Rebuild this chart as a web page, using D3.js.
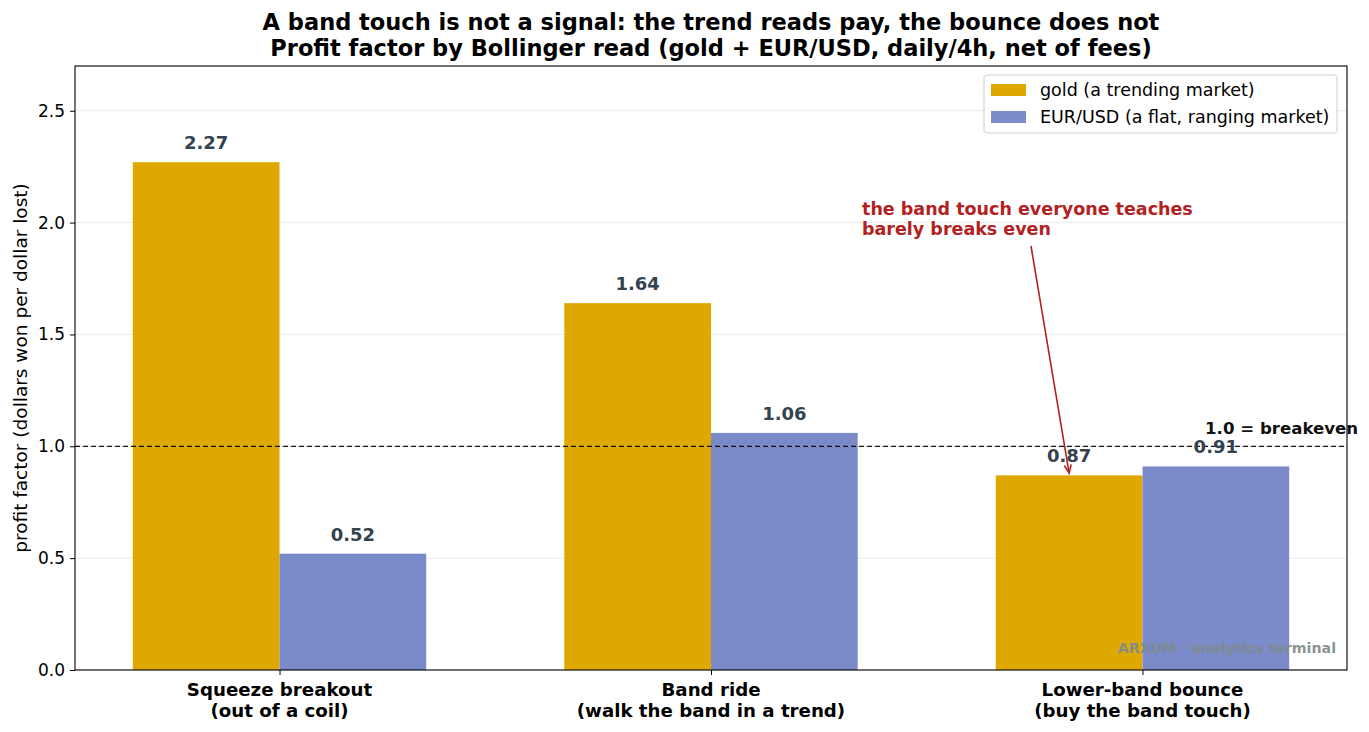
<!DOCTYPE html>
<html>
<head>
<meta charset="utf-8">
<script src="https://cdn.jsdelivr.net/npm/d3@7"></script>
<style>
  body { margin: 0; background: #fff; }
  svg { font-family: "DejaVu Sans", sans-serif; }
</style>
</head>
<body>
<div id="container"></div>
<script>
/* DATA */
const categories = ["Squeeze breakout\n(out of a coil)", "Band ride\n(walk the band in a trend)", "Lower-band bounce\n(buy the band touch)"];
const seriesNames = ["gold (a trending market)", "EUR/USD (a flat, ranging market)"];
const goldValues = [2.27, 1.64, 0.87];
const eurusdValues = [0.52, 1.06, 0.91];
const yTicks = [0.0, 0.5, 1.0, 1.5, 2.0, 2.5];
const breakeven = 1.0;

/* CONSTANTS */
const width = 1369,
    height = 732,
    margin = { top: 66, bottom: 62, left: 75, right: 22 };
const barW = 0.34;
const colors = ["#dfa800", "#7b8ac9"];

const svg = d3.select("#container")
    .append("svg")
    .attr("width", width)
    .attr("height", height);

const xScale = d3.scaleLinear()
    .domain([-0.474, 2.474])
    .range([margin.left, width - margin.right]);
const yScale = d3.scaleLinear()
    .domain([0, 2.7])
    .range([height - margin.bottom, margin.top]);

// grid
svg.append("g")
    .selectAll("line")
    .data(yTicks)
    .join("line")
    .attr("x1", margin.left)
    .attr("x2", width - margin.right)
    .attr("y1", d => yScale(d))
    .attr("y2", d => yScale(d))
    .attr("stroke", "#ebebeb")
    .attr("stroke-width", 1);

// bars
const series = [goldValues, eurusdValues];
series.forEach((vals, s) => {
    const off = s === 0 ? -barW / 2 : barW / 2;
    svg.append("g")
        .selectAll("rect")
        .data(vals)
        .join("rect")
        .attr("x", (d, i) => xScale(i + off - barW / 2))
        .attr("width", xScale(barW) - xScale(0))
        .attr("y", d => yScale(d))
        .attr("height", d => yScale(0) - yScale(d))
        .attr("fill", colors[s]);
});

// breakeven
svg.append("line")
    .attr("x1", margin.left)
    .attr("x2", width - margin.right)
    .attr("y1", yScale(breakeven))
    .attr("y2", yScale(breakeven))
    .attr("stroke", "#111")
    .attr("stroke-width", 1.3)
    .attr("stroke-dasharray", "5,3");

// value labels
series.forEach((vals, s) => {
    const off = s === 0 ? -barW / 2 : barW / 2;
    svg.append("g")
        .selectAll("text")
        .data(vals)
        .join("text")
        .attr("x", (d, i) => xScale(i + off))
        .attr("y", d => yScale(d) - 13)
        .attr("text-anchor", "middle")
        .attr("font-size", 18)
        .attr("font-weight", "bold")
        .attr("fill", "#34434f")
        .text(d => d.toFixed(2));
});

// axes
const xAxis = d3.axisBottom(xScale).tickValues([0, 1, 2]).tickSize(5).tickFormat("");
const yAxis = d3.axisLeft(yScale).tickValues(yTicks).tickSize(5).tickFormat(d3.format(".1f"));

const gx = svg.append("g")
    .attr("transform", `translate(0,${height - margin.bottom})`)
    .call(xAxis);
gx.select(".domain").remove();
gx.selectAll("line").attr("stroke", "#000");

const gy = svg.append("g")
    .attr("transform", `translate(${margin.left},0)`)
    .call(yAxis);
gy.select(".domain").remove();
gy.selectAll("line").attr("stroke", "#000");
gy.selectAll("text")
    .attr("font-family", "DejaVu Sans")
    .attr("font-size", 17)
    .attr("fill", "#000")
    .attr("dx", "-2");

// category labels
categories.forEach((c, i) => {
    const t = svg.append("text")
        .attr("x", xScale(i))
        .attr("y", 696)
        .attr("text-anchor", "middle")
        .attr("font-size", 18.2)
        .attr("font-weight", "bold");
    c.split("\n").forEach((line, j) => {
        t.append("tspan").attr("x", xScale(i)).attr("dy", j === 0 ? 0 : 21).text(line);
    });
});

// frame
svg.append("rect")
    .attr("x", margin.left)
    .attr("y", margin.top)
    .attr("width", width - margin.left - margin.right)
    .attr("height", height - margin.top - margin.bottom)
    .attr("fill", "none")
    .attr("stroke", "#000")
    .attr("stroke-width", 1.1);

// y label
svg.append("text")
    .attr("transform", `translate(27,${(margin.top + height - margin.bottom) / 2}) rotate(-90)`)
    .attr("text-anchor", "middle")
    .attr("font-size", 18.5)
    .text("profit factor (dollars won per dollar lost)");

// title
const title = svg.append("text")
    .attr("y", 30)
    .attr("text-anchor", "middle")
    .attr("font-size", 22.5)
    .attr("font-weight", "bold");
title.append("tspan").attr("x", (margin.left + width - margin.right) / 2).text("A band touch is not a signal: the trend reads pay, the bounce does not");
title.append("tspan").attr("x", (margin.left + width - margin.right) / 2).attr("dy", 26).text("Profit factor by Bollinger read (gold + EUR/USD, daily/4h, net of fees)");

// breakeven label
svg.append("text")
    .attr("x", xScale(2.145))
    .attr("y", yScale(1.05) - 1)
    .attr("font-size", 16.6)
    .attr("font-weight", "bold")
    .attr("fill", "#111")
    .text("1.0 = breakeven");

// annotation
const annRed = "#b22222";
const ann = svg.append("text")
    .attr("x", xScale(1.35))
    .attr("y", 215)
    .attr("font-size", 17.5)
    .attr("font-weight", "bold")
    .attr("fill", annRed);
ann.append("tspan").attr("x", xScale(1.35)).text("the band touch everyone teaches");
ann.append("tspan").attr("x", xScale(1.35)).attr("dy", 20).text("barely breaks even");

const ax0 = 1031, ay0 = 246;
const ax1 = xScale(2 - barW / 2), ay1 = yScale(goldValues[2] + 0.01);
svg.append("line")
    .attr("x1", ax0).attr("y1", ay0)
    .attr("x2", ax1).attr("y2", ay1)
    .attr("stroke", annRed)
    .attr("stroke-width", 1.6);
const ang = Math.atan2(ay1 - ay0, ax1 - ax0);
const hl = 9, ha = 0.4;
svg.append("path")
    .attr("d", `M${ax1 - hl * Math.cos(ang - ha)},${ay1 - hl * Math.sin(ang - ha)} L${ax1},${ay1} L${ax1 - hl * Math.cos(ang + ha)},${ay1 - hl * Math.sin(ang + ha)}`)
    .attr("fill", "none")
    .attr("stroke", annRed)
    .attr("stroke-width", 1.6);

// legend
const lg = svg.append("g").attr("transform", "translate(984,75)");
lg.append("rect")
    .attr("width", 353).attr("height", 58)
    .attr("rx", 3)
    .attr("fill", "#fff").attr("fill-opacity", 0.85)
    .attr("stroke", "#d0d0d0");
seriesNames.forEach((n, i) => {
    lg.append("rect")
        .attr("x", 7).attr("y", 9 + i * 27)
        .attr("width", 35).attr("height", 12)
        .attr("fill", colors[i]);
    lg.append("text")
        .attr("x", 56).attr("y", 21 + i * 27)
        .attr("font-size", 17.5)
        .text(n);
});

// watermark
svg.append("text")
    .attr("x", 1336)
    .attr("y", 653)
    .attr("text-anchor", "end")
    .attr("font-size", 14.2)
    .attr("font-weight", "bold")
    .attr("fill", "#7f8c8d")
    .attr("fill-opacity", 0.95)
    .text("ARXUM · analytics terminal");
</script>
</body>
</html>
